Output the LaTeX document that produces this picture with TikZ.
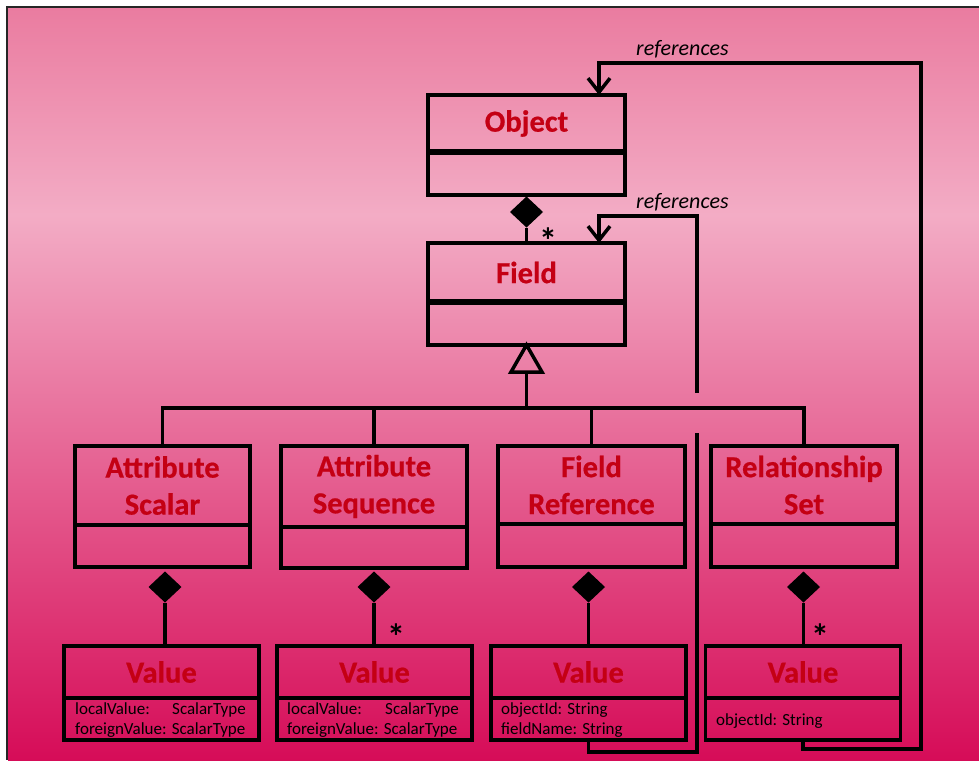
\documentclass[tikz,border=0pt]{standalone}
\usepackage{fontspec}
\setmainfont{Carlito}
\newfontfamily\titlefont[BoldFeatures={FakeBold=0.6}]{Carlito}
\usetikzlibrary{shapes.geometric,arrows.meta}
\definecolor{bgtop}{RGB}{234,124,160}
\definecolor{bgmid}{RGB}{243,172,197}
\definecolor{bgbot}{RGB}{214,12,88}
\definecolor{classred}{RGB}{196,0,20}
\tikzset{
  umlpart/.style={draw=black, line width=3.5pt, rectangle, inner sep=0pt, outer sep=0pt},
  classtitle/.style={umlpart, text=classred, font=\titlefont\fontsize{30.5}{37}\selectfont\bfseries, align=center},
  classbody/.style={umlpart},
  conn/.style={draw=black, line width=3.5pt},
  comp/.style={diamond, fill=black, inner sep=0pt, outer sep=0pt, minimum width=33pt, minimum height=31pt},
  attr/.style={font=\fontsize{17}{20}\selectfont, anchor=base west, inner sep=0pt},
  mult/.style={font=\fontsize{36}{36}\selectfont\bfseries, inner sep=0pt},
  reflabel/.style={font=\fontsize{22}{22}\selectfont\itshape, anchor=base west, inner sep=0pt},
  refarrow/.style={conn, -{Straight Barb[length=14pt,width=22pt]}},
}
% an asterisk whose box hugs the glyph
\newcommand{\multstar}{\raisebox{-12pt}[13pt][0pt]{*}}
\begin{document}
\begin{tikzpicture}[x=1pt,y=-1pt]
\useasboundingbox (0,0) rectangle (979,760);
% background
\shade[top color=bgtop, bottom color=bgmid] (8,8) rectangle (979,215);
\shade[top color=bgmid, bottom color=bgbot] (8,215) rectangle (979,760);
\draw[line width=2pt, black!85] (979,7) -- (7,7) -- (7,760);

% Object and Field
\node[classtitle, minimum width=197, minimum height=57] (objT) at (526.5,123.5) {Object};
\node[classbody, minimum width=197, minimum height=43] (objB) at (526.5,173.5) {};
\draw[line width=6pt] (objT.south west) -- (objT.south east);
\node[classtitle, minimum width=197, minimum height=59] (fldT) at (526.5,272.5) {Field};
\node[classbody, minimum width=197, minimum height=43] (fldB) at (526.5,323.5) {};
\draw[line width=6pt] (fldT.south west) -- (fldT.south east);

% Field subclasses
\node[classtitle, minimum width=175, minimum height=79] (asT) at (162.5,485.5) {Attribute\\Scalar};
\node[classbody, minimum width=175, minimum height=42] (asB) at (162.5,546) {};
\node[classtitle, minimum width=186, minimum height=81] (aqT) at (374,486.5) {Attribute\\Sequence};
\node[classbody, minimum width=186, minimum height=41] (aqB) at (374,547.5) {};
\node[classtitle, minimum width=187, minimum height=78] (frT) at (591.5,485) {Field\\Reference};
\node[classbody, minimum width=187, minimum height=43] (frB) at (591.5,545.5) {};
\node[classtitle, minimum width=186, minimum height=78] (rsT) at (804,485) {Relationship\\Set};
\node[classbody, minimum width=186, minimum height=43] (rsB) at (804,545.5) {};

% Value classes
\node[classtitle, minimum width=195, minimum height=52] (v1T) at (161.5,672) {Value};
\node[classbody, minimum width=195, minimum height=42] (v1B) at (161.5,719) {};
\node[classtitle, minimum width=195, minimum height=52] (v2T) at (374.5,672) {Value};
\node[classbody, minimum width=195, minimum height=42] (v2B) at (374.5,719) {};
\node[classtitle, minimum width=195, minimum height=52] (v3T) at (588.5,672) {Value};
\node[classbody, minimum width=195, minimum height=42] (v3B) at (588.5,719) {};
\node[classtitle, minimum width=195, minimum height=52] (v4T) at (803,672) {Value};
\node[classbody, minimum width=195, minimum height=42] (v4B) at (803,719) {};

% attributes
\node[attr] (v1a) at (75,714) {localValue:};
\node[attr] (v1at) at (172,714) {ScalarType};
\node[attr] (v1b) at (75,734) {foreignValue: ScalarType};
\node[attr] (v2a) at (287,714) {localValue:};
\node[attr] (v2at) at (385,714) {ScalarType};
\node[attr] (v2b) at (287,734) {foreignValue: ScalarType};
\node[attr] (v3a) at (501,714) {objectId: String};
\node[attr] (v3b) at (501,734) {fieldName: String};
\node[attr] (v4a) at (716,725) {objectId: String};

% compositions
\node[comp] (d0) at (526.5,212) {};
\draw[conn] (d0.south) -- (d0.south |- fldT.north);
\node[comp] (d1) at (165,587) {};
\node[comp] (d2) at (374,587) {};
\node[comp] (d3) at (588.5,587) {};
\node[comp] (d4) at (803.5,587) {};
\draw[conn] (d1.south) -- (d1.south |- v1T.north);
\draw[conn] (d2.south) -- (d2.south |- v2T.north);
\draw[conn] (d3.south) -- (d3.south |- v3T.north);
\draw[conn] (d4.south) -- (d4.south |- v4T.north);

% multiplicities
\node[mult] (m0) at (548,235) {\multstar};
\node[mult] (m2) at (396,631) {\multstar};
\node[mult] (m4) at (820,631) {\multstar};

% generalization
\coordinate (gen) at (526.5,373);
\coordinate (bus) at (526.5,408);
\draw[conn, line join=miter] (fldB.south) -- ++(-15.5,27) -- ++(31,0) -- cycle;
\draw[conn] (gen) -- (bus);
\draw[conn] (asT.north) |- (bus) -| (rsT.north);
\draw[conn] (aqT.north) -- (aqT.north |- bus);
\draw[conn] (frT.north) -- (frT.north |- bus);

% references to Field
\coordinate (r1low) at (697,752);
\coordinate (jumpLow) at (697,433);
\coordinate (jumpHigh) at (697,393);
\coordinate (r1top) at (599,216);
\draw[conn] (v3B.south) |- (r1low) -- (jumpLow);
\draw[refarrow] (jumpHigh) |- (r1top) -- (r1top |- fldT.north);
\node[reflabel] (ref1) at (636,208) {references};

% references to Object
\coordinate (r2low) at (921,749);
\coordinate (r2top) at (599,63);
\draw[refarrow] (v4B.south) |- (r2low) |- (r2top) -- (r2top |- objT.north);
\node[reflabel] (ref2) at (636,56) {references};
\end{tikzpicture}
\end{document}
